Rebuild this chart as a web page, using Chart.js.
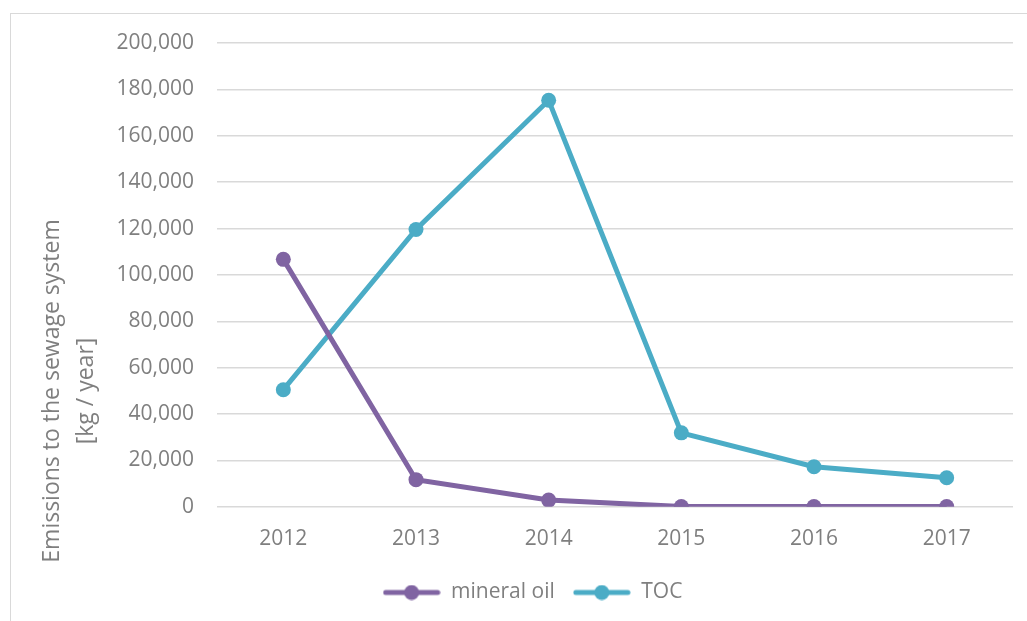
<!DOCTYPE html>
<html>
<head>
<meta charset="utf-8">
<script src="https://cdn.jsdelivr.net/npm/chart.js@4.4.1/dist/chart.umd.min.js"></script>
<style>
  html, body { margin: 0; padding: 0; background: #fff; }
  .frame {
    position: absolute; left: 10px; top: 13px; width: 1030px; height: 620px;
    border-left: 1px solid #d9d9d9; border-top: 1px solid #d9d9d9;
  }
  .wrap { position: absolute; left: 0; top: 0; width: 1027px; height: 621px; }
</style>
</head>
<body>
<div class="frame"></div>
<div class="wrap"><canvas id="myChart" width="1027" height="621"></canvas></div>
<script>
// data
const years = ["2012", "2013", "2014", "2015", "2016", "2017"];
const mineralOil = [106700, 11700, 2900, 100, 100, 100];
const toc = [50500, 119600, 175300, 31900, 17300, 12500];
const yTitleLines = ["Emissions to the sewage system", "[kg / year]"];

const purple = "#8064a2";
const teal = "#4bacc6";
const textColor = "#7f7f7f";
const fontFamily = "'Open Sans', sans-serif";

// legend marker: short line with a dot in the middle
function legendMarker(color) {
  const c = document.createElement("canvas");
  c.width = 58;
  c.height = 16;
  const ctx = c.getContext("2d");
  ctx.strokeStyle = color;
  ctx.lineWidth = 5;
  ctx.lineCap = "round";
  ctx.beginPath();
  ctx.moveTo(3, 8);
  ctx.lineTo(55, 8);
  ctx.stroke();
  ctx.fillStyle = color;
  ctx.beginPath();
  ctx.arc(29, 8, 7.5, 0, Math.PI * 2);
  ctx.fill();
  return c;
}

// y axis title, drawn lower than the axis middle like the original
const yTitlePlugin = {
  id: "yTitle",
  afterDraw(chart) {
    const ctx = chart.ctx;
    ctx.save();
    ctx.fillStyle = textColor;
    ctx.font = "23px " + fontFamily;
    ctx.textAlign = "center";
    ctx.textBaseline = "middle";
    ctx.translate(0, 391);
    ctx.rotate(-Math.PI / 2);
    ctx.fillText(yTitleLines[0], 0, 52);
    ctx.fillText(yTitleLines[1], 0, 86);
    ctx.restore();
  },
};

new Chart(document.getElementById("myChart"), {
  type: "line",
  data: {
    labels: years,
    datasets: [
      {
        label: "mineral oil",
        data: mineralOil,
        borderColor: purple,
        backgroundColor: purple,
        borderWidth: 5,
        pointRadius: 7.5,
        pointHoverRadius: 7.5,
        pointBorderWidth: 0,
        pointStyle: "circle",
        tension: 0,
      },
      {
        label: "TOC",
        data: toc,
        borderColor: teal,
        backgroundColor: teal,
        borderWidth: 5,
        pointRadius: 7.5,
        pointHoverRadius: 7.5,
        pointBorderWidth: 0,
        pointStyle: "circle",
        tension: 0,
      },
    ],
  },
  options: {
    responsive: false,
    animation: false,
    layout: { padding: { top: 43, right: 14, bottom: 8, left: 52 } },
    plugins: {
      tooltip: { enabled: false },
      legend: {
        position: "bottom",
        labels: {
          color: textColor,
          font: { family: fontFamily, size: 21 },
          usePointStyle: true,
          pointStyleWidth: 58,
          boxHeight: 16,
          padding: 18,
          generateLabels(chart) {
            return chart.data.datasets.map((ds, i) => ({
              text: ds.label,
              fontColor: textColor,
              pointStyle: legendMarker(ds.borderColor),
              strokeStyle: ds.borderColor,
              fillStyle: ds.borderColor,
              lineWidth: 0,
              hidden: false,
              datasetIndex: i,
            }));
          },
        },
      },
    },
    scales: {
      x: {
        offset: true,
        grid: { display: false },
        border: { display: false },
        ticks: {
          color: textColor,
          font: { family: fontFamily, size: 21 },
          padding: 12,
        },
      },
      y: {
        min: 0,
        max: 200000,
        afterFit(scale) {
          scale.width = 165;
        },
        grid: { color: "#d9d9d9", lineWidth: 1.5, drawTicks: false },
        border: { display: false },
        ticks: {
          stepSize: 20000,
          color: textColor,
          font: { family: fontFamily, size: 21 },
          padding: 23,
          callback: (v) => v.toLocaleString("en-US"),
        },
      },
    },
  },
  plugins: [yTitlePlugin],
});
</script>
</body>
</html>
